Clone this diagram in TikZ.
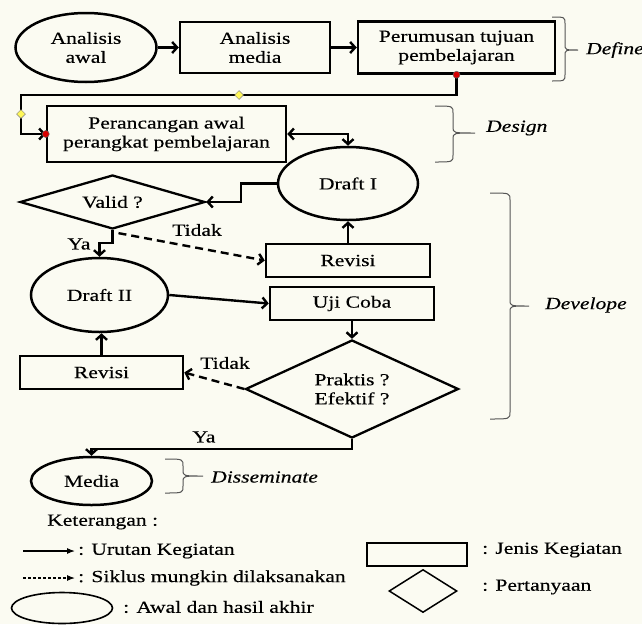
\documentclass[tikz,border=0pt]{standalone}
\usepackage{fontspec}
\setmainfont{Liberation Serif}[FakeStretch=1.27,FakeBold=0.35]
\usetikzlibrary{shapes.geometric,arrows.meta,calc}
\definecolor{bgc}{RGB}{251,251,242}
\definecolor{bracec}{RGB}{85,85,85}
\tikzset{
  shp/.style={draw, line width=2.5pt, inner sep=0pt, align=center},
  kotak/.style={shp, rectangle},
  oval/.style={shp, ellipse},
  belah/.style={shp, diamond, line width=2.3pt},
  arr/.style={line width=2.4pt, -{Straight Barb[length=5pt,width=11pt]}},
  arrboth/.style={line width=2.4pt, {Straight Barb[length=5pt,width=11pt]}-{Straight Barb[length=5pt,width=11pt]}},
  darr/.style={arr, dash pattern=on 8pt off 5pt},
  larr/.style={line width=1.1pt, -{Latex[length=8pt,width=6pt]}},
  lbl/.style={inner sep=0pt},
  txt/.style={inner sep=0pt, anchor=west},
  brcline/.style={draw=bracec, line width=1pt},
  ital/.style={font=\fontsize{17}{19}\selectfont\itshape, anchor=west, inner sep=0pt},
  hdot/.style={circle, fill=red!85!black, draw=black!60, line width=0.5pt, inner sep=0pt, minimum size=7pt},
  hdia/.style={diamond, fill=yellow!65, draw=black!50, line width=0.5pt, inner sep=0pt, minimum size=9pt},
}
% #1 hook x, #2 vertical x, #3 tip x, #4 top y, #5 bottom y, #6 tip y
\newcommand\mybrc[6]{%
  \draw[brcline] (#1,#4) .. controls (#2,#4) .. (#2,{#4+7})
    -- (#2,{#6-6}) .. controls (#2,#6) .. (#3,#6)
    .. controls (#2,#6) .. (#2,{#6+6})
    -- (#2,{#5-7}) .. controls (#2,#5) .. (#1,#5);}
\begin{document}
\begin{tikzpicture}[x=1pt, y=-1pt, font=\fontsize{17}{19}\selectfont]
\fill[bgc] (0,0) rectangle (642,624);
\useasboundingbox (0,0) rectangle (642,624);

% main nodes
\node[oval, minimum width=141pt, minimum height=69pt] (n1) at (86,47.5) {Analisis\\awal};
\node[kotak, minimum width=150pt, minimum height=51pt] (n2) at (255,47.5) {Analisis\\media};
\node[kotak, minimum width=197pt, minimum height=52pt] (n3) at (456.5,47.5) {Perumusan tujuan\\pembelajaran};
\node[kotak, minimum width=239pt, minimum height=56pt] (n4) at (166.5,134) {Perancangan awal\\perangkat pembelajaran};
\node[oval, minimum width=140pt, minimum height=73pt] (n5) at (348,183.5) {Draft I};
\node[belah, aspect=3.4, minimum width=185pt, minimum height=54pt] (n6) at (112.5,202) {Valid ?};
\node[kotak, minimum width=164pt, minimum height=33pt] (n7) at (348,260.5) {Revisi};
\node[oval, minimum width=137pt, minimum height=74pt] (n8) at (99.5,295) {Draft II};
\node[kotak, minimum width=164pt, minimum height=33pt] (n9) at (352,303.5) {Uji Coba};
\node[belah, aspect=2.2, minimum width=213pt, minimum height=98pt] (n10) at (352,389) {Praktis ?\\Efektif ?};
\node[kotak, minimum width=163pt, minimum height=33pt] (n11) at (101.5,372.5) {Revisi};
\node[oval, minimum width=121pt, minimum height=48pt] (n12) at (91.5,481) {Media};

% connectors
\coordinate (k1) at (21,95);
\draw[arr] (n1.east) -- (n2.west);
\draw[arr] (n2.east) -- (n3.west);
\draw[arr] (n3.south) |- (k1) |- (n4.west);
\draw[arrboth] (n4.east) -| (n5.north);
\draw[arr] (n5.west) -- ++(-36,0) |- (n6.east);
\draw[arr] (n6.south) -- ++(0,13) -| (n8.north);
\draw[darr] ($(n6.south)+(6,3)$) -- (n7.west);
\draw[arr] (n7.north) -- (n5.south);
\draw[arr] (n8.east) -- (n9.west);
\draw[arr] (n9.south) -- (n10.north);
\draw[darr] (n10.west) -- (n11.east);
\draw[arr] (n11.north) -- (n11.north |- n8.south);
\draw[arr] (n10.south) -- ++(0,10) -| (n12.north);

% connector handles
\node[hdot] (h1) at (n3.south) {};
\node[hdot] (h2) at (n4.west) {};
\node[hdia] (h3) at (239,95) {};
\node[hdia] (h4) at (21,114) {};

% connector labels
\node[lbl] (tY1) at (79,244) {Ya};
\node[lbl] (tT1) at (197,230) {Tidak};
\node[lbl] (tT2) at (225,363) {Tidak};
\node[lbl] (tY2) at (204,437) {Ya};

% braces
\mybrc{552}{565}{578}{17}{81}{50}
\node[ital] (bDef) at (586,50) {Define};
\mybrc{435}{453}{475}{106}{162}{133}
\node[ital] (bDes) at (486,128) {Design};
\mybrc{490}{510}{529}{193}{419}{306}
\node[ital] (bDev) at (545,305) {Develope};
\mybrc{165}{183}{203}{459}{493}{476}
\node[ital] (bDis) at (211,477) {Disseminate};

% legend
\node[txt] (ket) at (47,522) {Keterangan :};
\coordinate (la1) at (23,551);
\coordinate (la2) at (75,551);
\draw[larr] (la1) -- (la2);
\node[txt] (lt1) at (78,551) {: Urutan Kegiatan};
\coordinate (la3) at (23,578);
\coordinate (la4) at (75,578);
\draw[larr, dash pattern=on 3pt off 2pt] (la3) -- (la4);
\node[txt] (lt2) at (78,578) {: Siklus mungkin dilaksanakan};
\node[draw, ellipse, line width=1.6pt, minimum width=101pt, minimum height=31pt, inner sep=0pt] (le) at (62,608) {};
\node[txt] (lt3) at (123,607) {: Awal dan hasil akhir};
\node[draw, rectangle, line width=1.5pt, minimum width=100pt, minimum height=23pt, inner sep=0pt] (lr) at (417,554.5) {};
\node[txt] (lt4) at (482,550) {: Jenis Kegiatan};
\node[draw, diamond, aspect=1.6, line width=1.5pt, minimum width=68pt, minimum height=43pt, inner sep=0pt] (ld) at (423,591) {};
\node[txt] (lt5) at (482,587) {: Pertanyaan};
\end{tikzpicture}
\end{document}
